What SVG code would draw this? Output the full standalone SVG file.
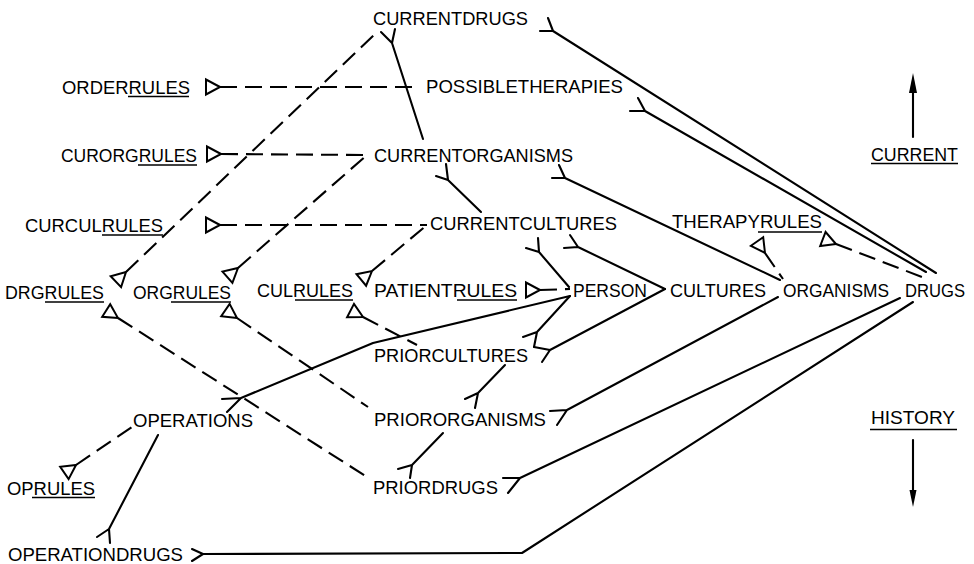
<svg xmlns="http://www.w3.org/2000/svg" width="974" height="564" viewBox="0 0 974 564">
  <style>
    .t { font-family: "Liberation Sans", Arial, sans-serif; font-size: 19px; fill: #000; }
    .ul { stroke: #000; stroke-width: 1.6; fill: none; }
    .s { fill: none; stroke: #000; stroke-width: 2.1; stroke-linecap: round; stroke-linejoin: round; }
    .d { fill: none; stroke: #000; stroke-width: 2.1; stroke-dasharray: 17 8; }
    .tri { fill: #fff; stroke: #000; stroke-width: 2; stroke-linejoin: miter; }
    .ah { fill: #000; stroke: none; }
  </style>
  <rect width="974" height="564" fill="#fff"/>

  <!-- connectors: solid relationship lines with crow's feet, dashed rule links with open triangles -->
  <g id="connectors">
    <!-- solid links (fork = many end) -->
    <path class="s" d="M381 32 L392 43 L395 29 M392 43 L423 139"/>
    <path class="s" d="M540 31 L553 31 L548 18 M553 31 L936 273"/>
    <path class="s" d="M630 111 L645 111 L638 98 M645 111 L926 272"/>
    <path class="s" d="M436 176 L448 180 L446 164 M448 180 L481 212"/>
    <path class="s" d="M552 178 L565 178 L559 165 M565 178 L780 280"/>
    <path class="s" d="M526 248 L539 252 L538 238 M539 252 L569 287"/>
    <path class="s" d="M564 248 L578 247 L570 235 M578 247 L665 289"/>
    <path class="s" d="M523 337 L537 332 L534 347 M537 332 L570 296"/>
    <path class="s" d="M534 347 L550 350 L542 362 M550 350 L665 289"/>
    <path class="s" d="M465 399 L478 393 L475 408 M478 393 L505 365"/>
    <path class="s" d="M550 411 L567 410 L557 425 M567 410 L778 297"/>
    <path class="s" d="M398 469 L412 465 L410 478 M412 465 L443 433"/>
    <path class="s" d="M503 478 L520 478 L508 493 M520 478 L900 298"/>
    <path class="s" d="M222 399 L241 398 L227 412 M241 398 L373 343 L570 296"/>
    <path class="s" d="M97 537 L109 529 L110 543 M109 529 L158 435"/>
    <path class="s" d="M192 549 L203 554 L192 561 M203 554 L522 553 L913 302"/>

    <!-- dashed rule links -->
    <path class="d" d="M220 87 L417 87"/>
    <path class="d" d="M221 154 L367 155"/>
    <path class="d" d="M238 268 L367 155"/>
    <path class="d" d="M220 225 L427 225"/>
    <path class="d" d="M372 271 L427 225"/>
    <path class="d" d="M126 272 L377 32"/>
    <path class="d" d="M118 318 L367 477"/>
    <path class="d" d="M237 318 L368 407"/>
    <path class="d" d="M363 317 L417 345"/>
    <path class="d" d="M540 290 L570 289"/>
    <path class="d" d="M765 253 L783 279"/>
    <path class="d" d="M836 244 L922 277"/>
    <path class="d" d="M76 465 L132 427"/>

    <!-- open triangles at the rule ends -->
    <polygon class="tri" points="220,87 206,79.5 206,94.5"/>
    <polygon class="tri" points="221,154 207,146.5 207,161.5"/>
    <polygon class="tri" points="220,225 206,217.5 206,232.5"/>
    <polygon class="tri" points="126,272 121.1,287.1 110.7,276.3"/>
    <polygon class="tri" points="118,318 102.2,316.8 110.2,304.2"/>
    <polygon class="tri" points="238,268 232.4,282.9 222.5,271.6"/>
    <polygon class="tri" points="237,318 221.2,316.3 229.6,303.9"/>
    <polygon class="tri" points="372,271 366.1,285.7 356.5,274.2"/>
    <polygon class="tri" points="363,317 347.1,317.2 354,303.9"/>
    <polygon class="tri" points="540,290 526,282.5 526,297.5"/>
    <polygon class="tri" points="765,253 763.2,237.2 750.9,245.8"/>
    <polygon class="tri" points="836,244 820.2,246 825.6,232"/>
    <polygon class="tri" points="76,465 68.6,479.1 60.2,466.7"/>
  </g>

  <!-- entities -->
  <g id="currentdrugs"><text class="t" x="373" y="25" textLength="155" lengthAdjust="spacingAndGlyphs">CURRENTDRUGS</text></g>
  <g id="orderrules"><text class="t" x="62" y="94" textLength="128" lengthAdjust="spacingAndGlyphs">ORDERRULES</text><line class="ul" x1="128" y1="96.5" x2="189" y2="96.5"/></g>
  <g id="possibletherapies"><text class="t" x="426" y="93" textLength="197" lengthAdjust="spacingAndGlyphs">POSSIBLETHERAPIES</text></g>
  <g id="curorgrules"><text class="t" x="61" y="162" textLength="136" lengthAdjust="spacingAndGlyphs">CURORGRULES</text><line class="ul" x1="138" y1="165" x2="197" y2="165"/></g>
  <g id="currentorganisms"><text class="t" x="374" y="162" textLength="199" lengthAdjust="spacingAndGlyphs">CURRENTORGANISMS</text></g>
  <g id="curculrules"><text class="t" x="25" y="232" textLength="138" lengthAdjust="spacingAndGlyphs">CURCULRULES</text><line class="ul" x1="102" y1="235" x2="163" y2="235"/></g>
  <g id="currentcultures"><text class="t" x="430" y="230" textLength="187" lengthAdjust="spacingAndGlyphs">CURRENTCULTURES</text></g>
  <g id="therapyrules"><text class="t" x="672" y="228" textLength="150" lengthAdjust="spacingAndGlyphs">THERAPYRULES</text><line class="ul" x1="758" y1="232" x2="822" y2="232"/></g>
  <g id="drgrules"><text class="t" x="5" y="299" textLength="99" lengthAdjust="spacingAndGlyphs">DRGRULES</text><line class="ul" x1="45" y1="302" x2="104" y2="302"/></g>
  <g id="orgrules"><text class="t" x="133" y="299" textLength="98" lengthAdjust="spacingAndGlyphs">ORGRULES</text><line class="ul" x1="171" y1="302" x2="231" y2="302"/></g>
  <g id="culrules"><text class="t" x="257" y="297" textLength="96" lengthAdjust="spacingAndGlyphs">CULRULES</text><line class="ul" x1="295" y1="300" x2="353" y2="300"/></g>
  <g id="patientrules"><text class="t" x="374" y="297" textLength="143" lengthAdjust="spacingAndGlyphs">PATIENTRULES</text><line class="ul" x1="457" y1="300" x2="517" y2="300"/></g>
  <g id="person"><text class="t" x="573" y="297" textLength="74" lengthAdjust="spacingAndGlyphs">PERSON</text></g>
  <g id="cultures"><text class="t" x="670" y="297" textLength="96" lengthAdjust="spacingAndGlyphs">CULTURES</text></g>
  <g id="organisms"><text class="t" x="783" y="297" textLength="106" lengthAdjust="spacingAndGlyphs">ORGANISMS</text></g>
  <g id="drugs"><text class="t" x="905" y="297" textLength="60" lengthAdjust="spacingAndGlyphs">DRUGS</text></g>
  <g id="priorcultures"><text class="t" x="374" y="362" textLength="154" lengthAdjust="spacingAndGlyphs">PRIORCULTURES</text></g>
  <g id="operations"><text class="t" x="133" y="427" textLength="120" lengthAdjust="spacingAndGlyphs">OPERATIONS</text></g>
  <g id="priororganisms"><text class="t" x="374" y="426" textLength="172" lengthAdjust="spacingAndGlyphs">PRIORORGANISMS</text></g>
  <g id="oprules"><text class="t" x="7" y="495" textLength="88" lengthAdjust="spacingAndGlyphs">OPRULES</text><line class="ul" x1="32" y1="497.5" x2="95" y2="497.5"/></g>
  <g id="priordrugs"><text class="t" x="373" y="494" textLength="125" lengthAdjust="spacingAndGlyphs">PRIORDRUGS</text></g>
  <g id="operationdrugs"><text class="t" x="8" y="561" textLength="175" lengthAdjust="spacingAndGlyphs">OPERATIONDRUGS</text></g>

  <!-- time axis legend -->
  <g id="legend-current">
    <line class="s" x1="913" y1="137" x2="913" y2="90"/>
    <polygon class="ah" points="913,73 909,93 917,93"/>
    <text class="t" x="871" y="161" textLength="87" lengthAdjust="spacingAndGlyphs">CURRENT</text>
    <line class="ul" x1="871" y1="163.5" x2="958" y2="163.5"/>
  </g>
  <g id="legend-history">
    <text class="t" x="871" y="424" textLength="84" lengthAdjust="spacingAndGlyphs">HISTORY</text>
    <line class="ul" x1="870" y1="429.5" x2="957" y2="429.5"/>
    <line class="s" x1="913" y1="440" x2="913" y2="492"/>
    <polygon class="ah" points="913,507 909.5,490 916.5,490"/>
  </g>
</svg>
